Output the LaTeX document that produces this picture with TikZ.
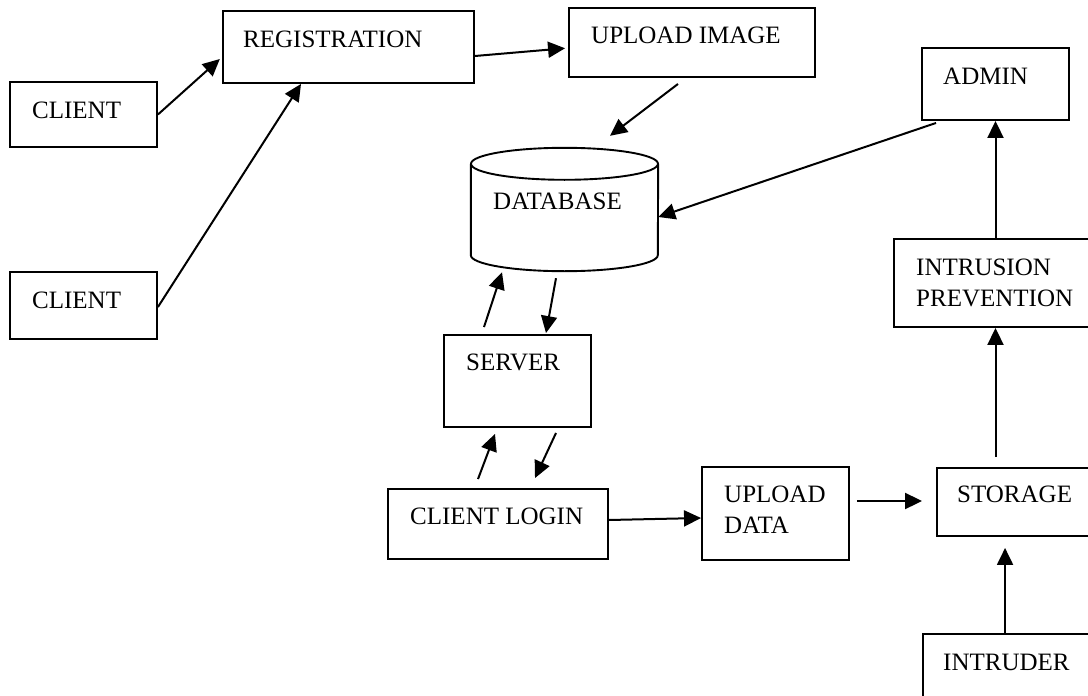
\documentclass[tikz,border=0pt]{standalone}
\usepackage{fontspec}
\setmainfont{Liberation Serif}
\usetikzlibrary{arrows.meta}

\begin{document}
\begin{tikzpicture}
    [
        x=1pt, y=-1pt,
        block/.style={draw, rectangle, line width=1.9pt, inner sep=0pt},
        drum/.style={rectangle, inner sep=0pt, minimum width=187pt, minimum height=123pt},
        txt/.style={anchor=west, inner sep=0pt, align=left, font=\fontsize{25}{31}\selectfont},
        flow/.style={-{Triangle[length=17pt, width=16pt]}, line width=2pt}
    ]
        \useasboundingbox (0,0) rectangle (1088,696);
        \clip (0,0) rectangle (1088,696);
        % =========================================================================
        % NODES
        % =========================================================================
        % --- Left column ---
        \node [block, minimum width=147pt, minimum height=65pt] (client1) at (83.5,114.5) {};
        \node [block, minimum width=147pt, minimum height=67pt] (client2) at (83.5,305.5) {};
        % --- Top row ---
        \node [block, minimum width=251pt, minimum height=72pt] (reg) at (348.5,47) {};
        \node [block, minimum width=246pt, minimum height=69pt] (upimg) at (692,42.5) {};
        \node [block, minimum width=147pt, minimum height=72pt] (admin) at (995.5,84) {};
        % --- Middle ---
        \node [drum] (db) at (564.5,209.5) {};
        \node [block, minimum width=147pt, minimum height=92pt] (srv) at (517.5,381) {};
        \node [block, minimum width=226pt, minimum height=88pt] (intr) at (1007,283) {};
        % --- Bottom row ---
        \node [block, minimum width=220pt, minimum height=70pt] (login) at (498,524) {};
        \node [block, minimum width=147pt, minimum height=93pt] (updata) at (775.5,513.5) {};
        \node [block, minimum width=173pt, minimum height=68pt] (store) at (1023.5,502) {};
        \node [block, minimum width=187pt, minimum height=86pt] (intruder) at (1016.5,677) {};

        % --- Database drum ---
        \draw [line width=1.9pt] ([yshift=-16pt]db.north) ellipse [x radius=93.5pt, y radius=16pt];
        \draw [line width=1.9pt] ([yshift=-16pt]db.north west) -- ([yshift=16pt]db.south west)
            arc [start angle=180, end angle=360, x radius=93.5pt, y radius=16pt]
            -- ([yshift=-16pt]db.north east);

        % --- Texts ---
        \node [txt] (client1txt) at (32,110) {CLIENT};
        \node [txt] (client2txt) at (32,300) {CLIENT};
        \node [txt] (regtxt) at (243,39) {REGISTRATION};
        \node [txt] (upimgtxt) at (591,35) {UPLOAD IMAGE};
        \node [txt] (admintxt) at (943,76) {ADMIN};
        \node [txt] (dbtxt) at (493,201) {DATABASE};
        \node [txt] (srvtxt) at (466,362) {SERVER};
        \node [txt] (intrtxt) at (916,283) {INTRUSION\\PREVENTION};
        \node [txt] (logintxt) at (410,516) {CLIENT LOGIN};
        \node [txt] (updatatxt) at (724,510) {UPLOAD\\DATA};
        \node [txt] (storetxt) at (957,494) {STORAGE};
        \node [txt] (intrudertxt) at (943,662) {INTRUDER};

        % =========================================================================
        % PATHS
        % =========================================================================
        % --- Registration ---
        \draw [flow, shorten >=3pt] (client1.east) -- ([yshift=-10pt]reg.west);
        \draw [flow] ([yshift=-1.5pt]client2.east) -- ([xshift=-47.5pt]reg.south);
        \draw [flow, shorten >=3pt] ([yshift=-9pt]reg.east) -- ([yshift=-5.5pt]upimg.west);
        \draw [flow] ([xshift=-14pt, yshift=-6pt]upimg.south) -- ([xshift=45.5pt, yshift=12pt]db.north);
        \draw [flow] ([xshift=15pt, yshift=-2pt]admin.south west) -- ([yshift=-7.5pt]db.east);
        % --- Server ---
        \draw [flow] ([xshift=-33.5pt, yshift=7pt]srv.north) -- ([xshift=-62.5pt, yshift=-1pt]db.south);
        \draw [flow] ([xshift=-8.5pt, yshift=-7pt]db.south) -- ([xshift=28.5pt, yshift=1pt]srv.north);
        \draw [flow] ([xshift=-20pt, yshift=9pt]login.north) -- ([xshift=-22.5pt, yshift=-6pt]srv.south);
        \draw [flow] ([xshift=38.5pt, yshift=-5pt]srv.south) -- ([xshift=37pt, yshift=10pt]login.north);
        % --- Upload and storage ---
        \draw [flow] ([yshift=4pt]login.east) -- ([yshift=-4.5pt]updata.west);
        \draw [flow] ([xshift=7pt, yshift=12.5pt]updata.east) -- ([xshift=-14pt, yshift=1pt]store.west);
        \coordinate (storetop) at ([yshift=10pt]store.north);
        \draw [flow] (storetop -| admin.south) -- (intr.south -| admin.south);
        \draw [flow] (admin.south |- intr.north) -- (admin.south);
        \draw [flow] ([xshift=83pt]intruder.north west) -- ([xshift=69pt, yshift=-11pt]store.south west);

    \end{tikzpicture}
\end{document}
